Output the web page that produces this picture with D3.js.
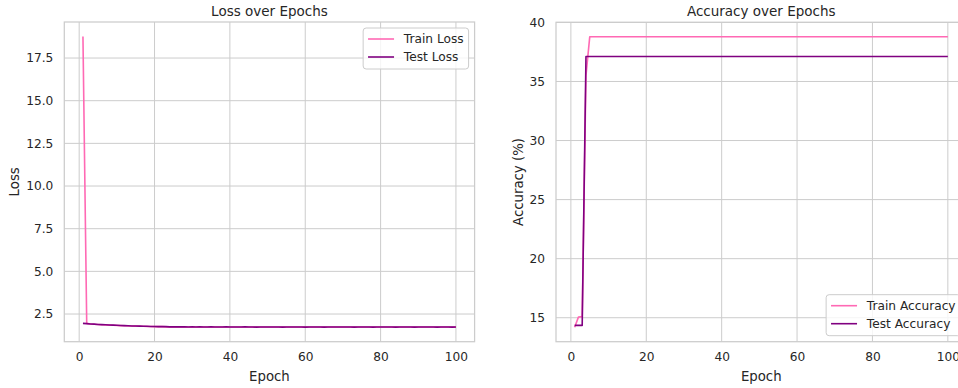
<!DOCTYPE html>
<html>
<head>
<meta charset="utf-8">
<script src="https://cdn.jsdelivr.net/npm/d3@7"></script>
<style>
  body { margin: 0; background: white; }
  text { font-family: "DejaVu Sans", sans-serif; fill: #262626; }
</style>
</head>
<body>
<svg id="chart" width="958" height="388"></svg>
<script>
// data, one value per epoch (1..100)
const trainLoss = [18.76,1.95,1.92,1.90,1.89,1.87,1.86,1.85,1.84,1.83,1.82,1.81,1.80,1.80,1.79,1.78,1.78,1.77,1.77,1.76,
  1.76,1.76,1.75,1.75,1.75,1.75,1.75,1.74,1.74,1.74,1.74,1.74,1.74,1.74,1.74,1.74,1.74,1.74,1.74,1.74,
  1.74,1.74,1.74,1.74,1.74,1.74,1.73,1.74,1.74,1.74,1.74,1.74,1.74,1.73,1.74,1.74,1.74,1.74,1.74,1.73,
  1.74,1.74,1.74,1.74,1.73,1.74,1.74,1.74,1.74,1.74,1.74,1.74,1.73,1.74,1.74,1.74,1.74,1.73,1.74,1.74,
  1.74,1.74,1.74,1.73,1.74,1.74,1.74,1.74,1.73,1.74,1.74,1.74,1.74,1.74,1.73,1.74,1.74,1.74,1.73,1.73];
const testLoss = [1.95,1.94,1.92,1.91,1.89,1.88,1.87,1.86,1.85,1.84,1.83,1.82,1.81,1.80,1.80,1.79,1.78,1.78,1.77,1.77,
  1.76,1.76,1.76,1.75,1.75,1.75,1.75,1.75,1.74,1.75,1.74,1.75,1.74,1.74,1.75,1.74,1.74,1.74,1.75,1.74,
  1.74,1.74,1.74,1.75,1.74,1.74,1.73,1.74,1.74,1.74,1.74,1.74,1.74,1.73,1.74,1.74,1.74,1.74,1.74,1.73,
  1.74,1.74,1.74,1.74,1.73,1.74,1.74,1.74,1.74,1.74,1.74,1.74,1.73,1.74,1.74,1.74,1.74,1.73,1.74,1.74,
  1.74,1.74,1.74,1.73,1.74,1.74,1.74,1.74,1.73,1.74,1.74,1.74,1.74,1.74,1.73,1.74,1.74,1.74,1.73,1.74];
const trainAcc = [14.20,15.05,15.10,35.50,38.78,38.78,38.78,38.78,38.78,38.78,38.78,38.78,38.78,38.78,38.78,38.78,38.78,38.78,38.78,38.78,
  38.78,38.78,38.78,38.78,38.78,38.78,38.78,38.78,38.78,38.78,38.78,38.78,38.78,38.78,38.78,38.78,38.78,38.78,38.78,38.78,
  38.78,38.78,38.78,38.78,38.78,38.78,38.78,38.78,38.78,38.78,38.78,38.78,38.78,38.78,38.78,38.78,38.78,38.78,38.78,38.78,
  38.78,38.78,38.78,38.78,38.78,38.78,38.78,38.78,38.78,38.78,38.78,38.78,38.78,38.78,38.78,38.78,38.78,38.78,38.78,38.78,
  38.78,38.78,38.78,38.78,38.78,38.78,38.78,38.78,38.78,38.78,38.78,38.78,38.78,38.78,38.78,38.78,38.78,38.78,38.78,38.78];
const testAcc = [14.35,14.35,14.35,37.12,37.12,37.12,37.12,37.12,37.12,37.12,37.12,37.12,37.12,37.12,37.12,37.12,37.12,37.12,37.12,37.12,
  37.12,37.12,37.12,37.12,37.12,37.12,37.12,37.12,37.12,37.12,37.12,37.12,37.12,37.12,37.12,37.12,37.12,37.12,37.12,37.12,
  37.12,37.12,37.12,37.12,37.12,37.12,37.12,37.12,37.12,37.12,37.12,37.12,37.12,37.12,37.12,37.12,37.12,37.12,37.12,37.12,
  37.12,37.12,37.12,37.12,37.12,37.12,37.12,37.12,37.12,37.12,37.12,37.12,37.12,37.12,37.12,37.12,37.12,37.12,37.12,37.12,
  37.12,37.12,37.12,37.12,37.12,37.12,37.12,37.12,37.12,37.12,37.12,37.12,37.12,37.12,37.12,37.12,37.12,37.12,37.12,37.12];

const epochTicks = [0, 20, 40, 60, 80, 100];
const lossTicks = [2.5, 5.0, 7.5, 10.0, 12.5, 15.0, 17.5];
const accTicks = [15, 20, 25, 30, 35, 40];

const PINK = "#ff69b4";
const PURPLE = "#800080";
const GRID = "#cccccc";

const svg = d3.select("#chart");

// matplotlib style autoscale: data range plus 5% on each side
var padded = function(values) {
    const lo = d3.min(values), hi = d3.max(values);
    const m = (hi - lo) * 0.05;
    return [lo - m, hi + m];
};

var drawPanel = function(opts) {
    const box = opts.box;
    const g = svg.append("g");

    const epochs = opts.series[0].values.map((v, i) => i + 1);
    const x = d3.scaleLinear().domain(padded(epochs)).range([box.left, box.right]);
    const y = d3.scaleLinear()
        .domain(padded(opts.series.flatMap(s => s.values)))
        .range([box.bottom, box.top]);

    const yTicks = opts.yTicks.filter(t => t >= y.domain()[0] && t <= y.domain()[1] + 1e-9);

    // grid
    g.append("g").selectAll("line.vx")
        .data(epochTicks)
        .enter().append("line")
        .attr("x1", d => x(d)).attr("x2", d => x(d))
        .attr("y1", box.top).attr("y2", box.bottom)
        .attr("stroke", GRID).attr("stroke-width", 1);
    g.append("g").selectAll("line.hy")
        .data(yTicks)
        .enter().append("line")
        .attr("x1", box.left).attr("x2", box.right)
        .attr("y1", d => y(d)).attr("y2", d => y(d))
        .attr("stroke", GRID).attr("stroke-width", 1);

    // tick labels (axes with no tick marks, seaborn whitegrid)
    const xAxis = d3.axisBottom(x).tickValues(epochTicks).tickSize(0).tickPadding(11).tickFormat(d3.format("d"));
    const yAxis = d3.axisLeft(y).tickValues(yTicks).tickSize(0).tickPadding(11).tickFormat(d3.format(opts.yFormat));
    const gx = g.append("g").attr("transform", `translate(0,${box.bottom})`).call(xAxis);
    const gy = g.append("g").attr("transform", `translate(${box.left},0)`).call(yAxis);
    [gx, gy].forEach(a => {
        a.select(".domain").remove();
        a.selectAll("text")
            .attr("font-family", "DejaVu Sans")
            .attr("font-size", 12.2)
            .attr("fill", "#262626");
    });

    // lines
    const line = d3.line().x((d, i) => x(i + 1)).y(d => y(d));
    opts.series.forEach(s => {
        g.append("path")
            .datum(s.values)
            .attr("d", line)
            .attr("fill", "none")
            .attr("stroke", s.color)
            .attr("stroke-width", 1.6)
            .attr("stroke-linejoin", "round");
    });

    // frame
    g.append("rect")
        .attr("x", box.left).attr("y", box.top)
        .attr("width", box.right - box.left).attr("height", box.bottom - box.top)
        .attr("fill", "none").attr("stroke", GRID).attr("stroke-width", 1.25);

    // title and axis labels
    const cx = (box.left + box.right) / 2;
    const cy = (box.top + box.bottom) / 2;
    g.append("text")
        .attr("x", cx).attr("y", 11)
        .attr("text-anchor", "middle").attr("dominant-baseline", "central")
        .attr("font-size", 13.5)
        .text(opts.title);
    g.append("text")
        .attr("x", cx).attr("y", 376)
        .attr("text-anchor", "middle").attr("dominant-baseline", "central")
        .attr("font-size", 13.3)
        .text("Epoch");
    g.append("text")
        .attr("transform", `translate(${opts.yLabelX},${cy}) rotate(-90)`)
        .attr("text-anchor", "middle").attr("dominant-baseline", "central")
        .attr("font-size", 13.3)
        .text(opts.yLabel);

    drawLegend(g, box, opts.series, opts.legendPos);
};

var drawLegend = function(g, box, series, pos) {
    const fs = 12.2;
    const pad = 4.9, handle = 26, gap = 9.8, rowH = 18, h = 41;
    const lg = g.append("g");
    const bg = lg.append("rect");

    const labels = series.map(s => lg.append("text")
        .attr("font-size", fs)
        .attr("dominant-baseline", "central")
        .text(s.label));
    const textW = d3.max(labels, t => t.node().getComputedTextLength());
    const w = pad + handle + gap + textW + pad;

    const right = box.right - 6;
    const left = right - w;
    const top = pos === "upper right" ? box.top + 6 : box.bottom - 6 - h;

    bg.attr("x", left).attr("y", top).attr("width", w).attr("height", h)
        .attr("rx", 3).attr("ry", 3)
        .attr("fill", "white").attr("fill-opacity", 0.8)
        .attr("stroke", GRID).attr("stroke-width", 1);

    series.forEach((s, i) => {
        const ry = top + 11 + i * rowH;
        lg.append("line")
            .attr("x1", left + pad).attr("x2", left + pad + handle)
            .attr("y1", ry).attr("y2", ry)
            .attr("stroke", s.color).attr("stroke-width", 1.6);
        labels[i].attr("x", left + pad + handle + gap).attr("y", ry);
        labels[i].raise();
    });
};

drawPanel({
    box: {left: 64.3, right: 474.6, top: 22, bottom: 341.7},
    series: [
        {label: "Train Loss", color: PINK, values: trainLoss},
        {label: "Test Loss", color: PURPLE, values: testLoss}
    ],
    yTicks: lossTicks,
    yFormat: ".1f",
    title: "Loss over Epochs",
    yLabel: "Loss",
    yLabelX: 14,
    legendPos: "upper right"
});

drawPanel({
    box: {left: 556, right: 966.5, top: 22.3, bottom: 341.7},
    series: [
        {label: "Train Accuracy", color: PINK, values: trainAcc},
        {label: "Test Accuracy", color: PURPLE, values: testAcc}
    ],
    yTicks: accTicks,
    yFormat: "d",
    title: "Accuracy over Epochs",
    yLabel: "Accuracy (%)",
    yLabelX: 518,
    legendPos: "lower right"
});
</script>
</body>
</html>
